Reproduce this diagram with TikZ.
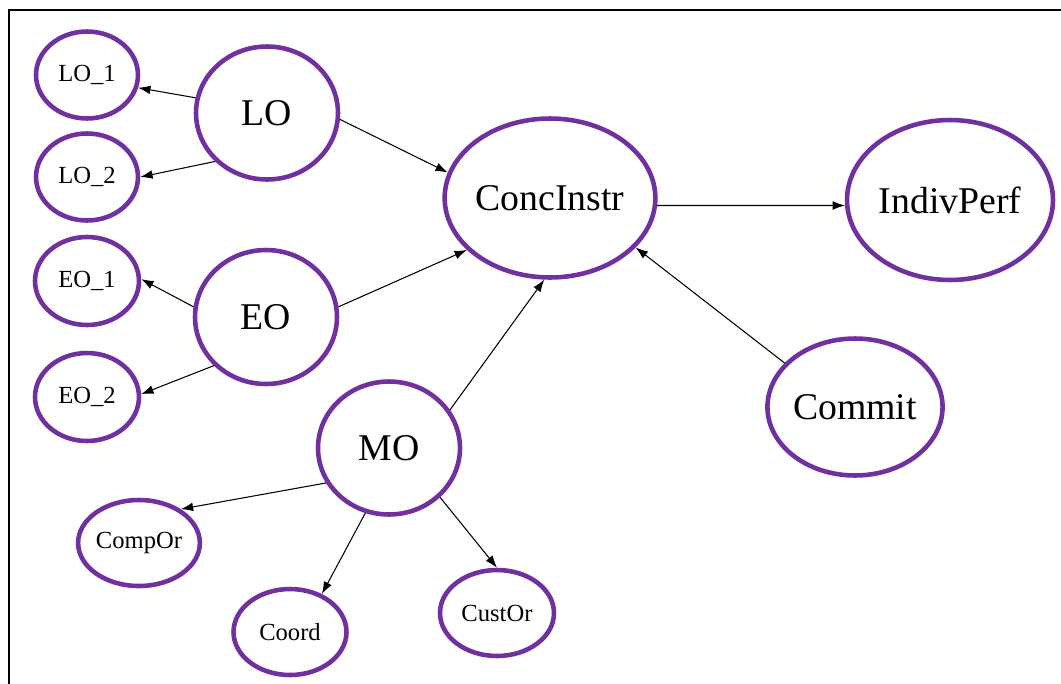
\documentclass[tikz,border=0pt]{standalone}
\usepackage{fontspec}
\setmainfont{Liberation Serif}
\usepackage{tikz}
\usetikzlibrary{shapes,arrows.meta}
\definecolor{ovalpurple}{RGB}{112,48,160}

\begin{document}
\begin{tikzpicture}[x=0.02cm,y=-0.02cm,
        oval/.style={ellipse,draw=ovalpurple,line width=2.6pt,inner sep=0pt},
        bigoval/.style={oval,font=\fontsize{21.5}{24}\selectfont},
        smalloval/.style={oval,font=\fontsize{14}{16}\selectfont},
        link/.style={-{Latex[length=7pt,width=5pt]},line width=0.6pt}]
        \useasboundingbox (0,0) rectangle (1061,683);
        \clip (0,0) rectangle (1061,683);
        \draw[line width=1.4pt] (9,10) rectangle (1080,700);

        % left blocks
        \node[smalloval,minimum width=2.04cm,minimum height=1.74cm] (lo1) at (87,75) {LO\_1};
        \node[smalloval,minimum width=2.04cm,minimum height=1.74cm] (lo2) at (87,177) {LO\_2};
        \node[smalloval,minimum width=2.08cm,minimum height=1.76cm] (eo1) at (87,281) {EO\_1};
        \node[smalloval,minimum width=2.08cm,minimum height=1.76cm] (eo2) at (87,397) {EO\_2};
        \node[bigoval,minimum width=2.84cm,minimum height=2.66cm] (lo) at (267,113) {LO};
        \node[bigoval,minimum width=2.84cm,minimum height=2.68cm] (eo) at (266,317) {EO};
        \node[bigoval,minimum width=2.84cm,minimum height=2.66cm] (mo) at (389,448) {MO};

        % MO items
        \node[smalloval,minimum width=2.24cm,minimum height=1.72cm] (compor) at (139,543) {CompOr};
        \node[smalloval,minimum width=2.26cm,minimum height=1.72cm] (coord) at (290,632) {Coord};
        \node[smalloval,minimum width=2.28cm,minimum height=1.72cm] (custor) at (497,613) {CustOr};

        % right side
        \node[bigoval,minimum width=4.04cm,minimum height=3.18cm] (conc) at (550,198) {ConcInstr};
        \node[bigoval,minimum width=4.12cm,minimum height=3.2cm] (indiv) at (950,200) {IndivPerf};
        \node[bigoval,minimum width=3.42cm,minimum height=2.74cm] (commit) at (855,407) {Commit};

        \draw[link] (lo.168) -- (lo1.346);
        \draw[link] (lo.223) -- (lo2.0);
        \draw[link] (lo.355) -- (conc.166);
        \draw[link] (eo.172) -- (eo1.2);
        \draw[link] (eo.223) -- (eo2.3);
        \draw[link] (eo.8) -- (conc.212);
        \draw[link] (mo.32) -- (conc.266);
        \draw[link] (mo.209) -- (compor.39);
        \draw[link] (mo.250) -- (coord.50);
        \draw[link] (mo.316) -- (custor.90);
        \draw[link] (conc.356) -- (indiv.183);
        \draw[link] (commit.148) -- (conc.330);
\end{tikzpicture}
\end{document}
